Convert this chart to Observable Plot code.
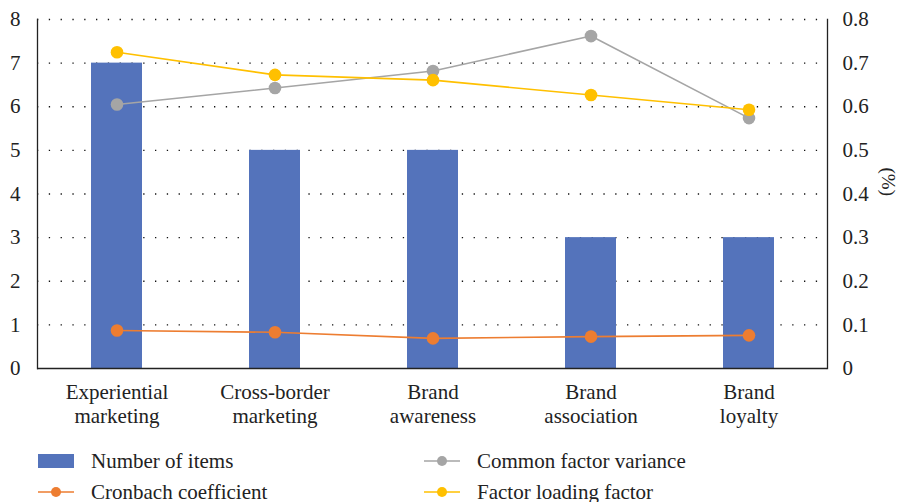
<!DOCTYPE html>
<html>
<head>
<meta charset="utf-8">
<script src="https://cdn.jsdelivr.net/npm/d3@7"></script>
<script src="https://cdn.jsdelivr.net/npm/@observablehq/plot@0.6"></script>
<style>
  html, body { margin: 0; padding: 0; background: #fff; font-family: 'Liberation Serif', 'Times New Roman', serif; }
  #chart { position: relative; width: 901px; height: 502px; font-family: 'Liberation Serif', 'Times New Roman', serif; }
  #chart svg text { font-family: 'Liberation Serif', 'Times New Roman', serif; }
  #legend { position: absolute; left: 0; top: 446px; width: 901px; height: 56px; font-size: 21px; color: #222; }
  .item { position: absolute; display: flex; align-items: center; height: 24px; }
  .item svg { margin-right: 17px; }
</style>
</head>
<body>
<div id="chart"></div>
<script>
// Constructs and their measurement statistics
const constructs = ["Experiential\nmarketing", "Cross-border\nmarketing", "Brand\nawareness", "Brand\nassociation", "Brand\nloyalty"];
const numberOfItems = [7, 5, 5, 3, 3];
const cronbach = [0.087, 0.083, 0.069, 0.073, 0.076];
const commonFactorVariance = [0.605, 0.643, 0.682, 0.762, 0.574];
const factorLoading = [0.725, 0.673, 0.661, 0.627, 0.593];

const leftTicks = [0, 1, 2, 3, 4, 5, 6, 7, 8];
const rightTicks = [0, 0.1, 0.2, 0.3, 0.4, 0.5, 0.6, 0.7, 0.8];

const colors = {
  items: "#5473bb",
  cronbach: "#ed7d31",
  variance: "#a5a5a5",
  loading: "#ffc000"
};

// The right-hand axis (0–0.8) shares the left scale, ten units per 1.0
const ratio = 10;

const bars = constructs.map((c, i) => ({construct: c, value: numberOfItems[i]}));
const lineRows = (vals, series) => constructs.map((c, i) => ({construct: c, value: vals[i], series}));
const cronbachRows = lineRows(cronbach, "Cronbach coefficient");
const varianceRows = lineRows(commonFactorVariance, "Common factor variance");
const loadingRows = lineRows(factorLoading, "Factor loading factor");

const W = 901, H = 435;
const FS = 21;

const plot = Plot.plot({
  width: W,
  height: H,
  marginTop: 19,
  marginBottom: 67,
  marginLeft: 37,
  marginRight: 74,
  style: "font-family: 'Liberation Serif', 'Times New Roman', serif; font-size: 21px; color: #222; background: #fff;",
  x: {domain: constructs, paddingInner: 0.68, paddingOuter: 0.34, label: null},
  y: {domain: [0, 8], label: null},
  marks: [
    Plot.ruleY(leftTicks.filter(d => d > 0), {stroke: "#111", strokeWidth: 1.3, strokeDasharray: "1.3,10.5", strokeOpacity: 1}),
    Plot.barY(bars, {x: "construct", y: "value", fill: colors.items}),
    Plot.ruleY([0], {stroke: "#222", strokeWidth: 1.3}),
    Plot.frame({anchor: "left", stroke: "#222", strokeWidth: 1.3}),
    Plot.frame({anchor: "right", stroke: "#222", strokeWidth: 1.3}),
    Plot.line(cronbachRows, {x: "construct", y: d => d.value * ratio, stroke: colors.cronbach, strokeWidth: 1.6}),
    Plot.line(varianceRows, {x: "construct", y: d => d.value * ratio, stroke: colors.variance, strokeWidth: 1.6}),
    Plot.line(loadingRows, {x: "construct", y: d => d.value * ratio, stroke: colors.loading, strokeWidth: 1.6}),
    Plot.dot(cronbachRows, {x: "construct", y: d => d.value * ratio, r: 6.3, fill: colors.cronbach}),
    Plot.dot(varianceRows, {x: "construct", y: d => d.value * ratio, r: 6.3, fill: colors.variance}),
    Plot.dot(loadingRows, {x: "construct", y: d => d.value * ratio, r: 6.3, fill: colors.loading}),
    Plot.axisY(leftTicks, {anchor: "left", tickSize: 0, tickPadding: 17, label: null, fontSize: FS}),
    Plot.axisY(rightTicks.map(d => d * ratio), {anchor: "right", tickSize: 0, tickPadding: 15, label: null, fontSize: FS,
      tickFormat: d => d3.format("~g")(+(d / ratio).toFixed(2))}),
    Plot.axisX({anchor: "bottom", tickSize: 0, tickPadding: 13, label: null, fontSize: FS, lineHeight: 1.15}),
    Plot.text(["(%)"], {frameAnchor: "right", dx: 61, dy: 2, rotate: 90, fontSize: 19, fill: "#222"})
  ]
});

const chart = document.getElementById("chart");
chart.appendChild(plot);

// Legend below the plot area
const legend = document.createElement("div");
legend.id = "legend";
const items = [
  {label: "Number of items", kind: "bar", color: colors.items, left: 38, top: 3},
  {label: "Common factor variance", kind: "line", color: colors.variance, left: 424, top: 3},
  {label: "Cronbach coefficient", kind: "line", color: colors.cronbach, left: 38, top: 34},
  {label: "Factor loading factor", kind: "line", color: colors.loading, left: 424, top: 34}
];
for (const it of items) {
  const div = document.createElement("div");
  div.className = "item";
  div.style.left = it.left + "px";
  div.style.top = it.top + "px";
  const sw = it.kind === "bar"
    ? `<svg width="36" height="14"><rect x="0" y="0" width="36" height="14" fill="${it.color}"/></svg>`
    : `<svg width="36" height="14"><line x1="0" x2="36" y1="7" y2="7" stroke="${it.color}" stroke-width="1.6"/><circle cx="18" cy="7" r="5" fill="${it.color}"/></svg>`;
  div.innerHTML = sw + `<span>${it.label}</span>`;
  legend.appendChild(div);
}
chart.appendChild(legend);
</script>
</body>
</html>
